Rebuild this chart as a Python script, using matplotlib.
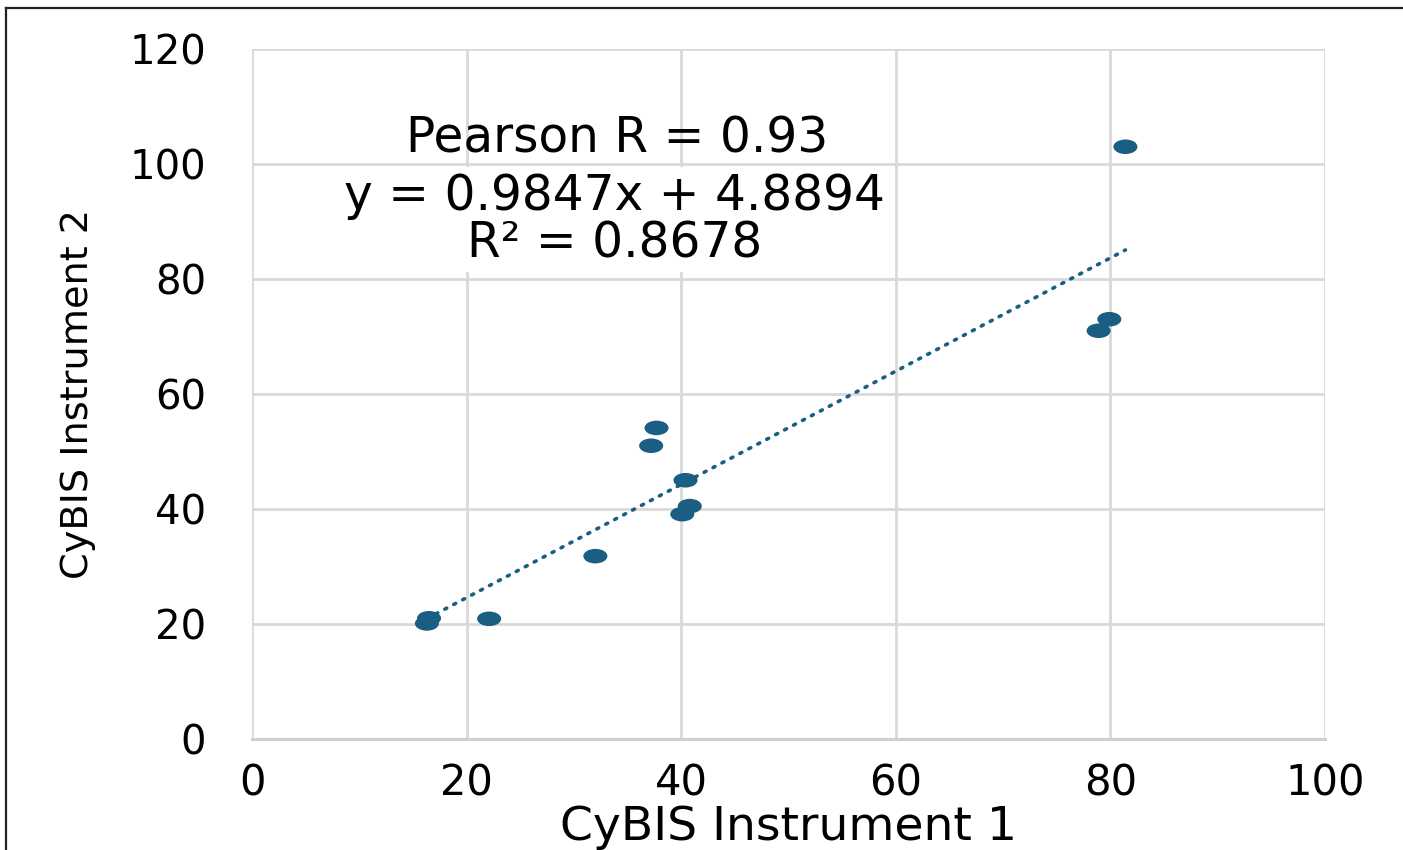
import numpy as np
import matplotlib
matplotlib.use("Agg")
import matplotlib.pyplot as plt
from matplotlib.path import Path
from matplotlib.transforms import Affine2D
from matplotlib.lines import Line2D

# data
instrument_1 = [16.3, 16.5, 22.1, 32.0, 37.2, 37.7, 40.1, 40.4, 40.8, 78.9, 79.9, 81.4]
instrument_2 = [20.1, 21.0, 20.9, 31.8, 51.0, 54.1, 39.1, 45.0, 40.5, 71.0, 73.0, 103.0]
slope = 0.9847
intercept = 4.8894
pearson_r = 0.93
r_squared = 0.8678

x_ticks = [0, 20, 40, 60, 80, 100]
y_ticks = [0, 20, 40, 60, 80, 100, 120]

blue = "#1b5e84"
grid_col = "#d9d9d9"

plt.rcParams['font.family'] = ['DejaVu Sans']

fig = plt.figure(figsize=(14.03, 8.5), dpi=100)
ax = fig.add_axes([252 / 1403, 1 - 739 / 850, (1325 - 252) / 1403, (739 - 49) / 850])

# ellipse marker (source image is stretched sideways)
ellipse = Path.unit_circle().transformed(Affine2D().scale(1.65, 1.0))

# trendline
xs = np.array([min(instrument_1), max(instrument_1)])
ax.plot(xs, slope * xs + intercept, color=blue, lw=2.6,
        linestyle=(0, (0.6, 2.2)), dash_capstyle='round', zorder=2)

ax.scatter(instrument_1, instrument_2, marker=ellipse, s=300, color=blue,
           edgecolors='none', zorder=3)

ax.set_xlim(0, 100)
ax.set_ylim(0, 120)
ax.set_xticks(x_ticks)
ax.set_yticks(y_ticks)
ax.grid(True, color=grid_col, lw=2.0)
ax.set_axisbelow(True)
for side in ['top', 'right', 'left']:
    ax.spines[side].set_visible(False)
ax.spines['bottom'].set_color('#cfcfcf')
ax.spines['bottom'].set_linewidth(2.2)
ax.tick_params(axis='both', length=0)
ax.tick_params(axis='y', labelsize=29, pad=33)
ax.tick_params(axis='x', labelsize=30, pad=17)

ax.set_xlabel('CyBIS Instrument 1', fontsize=34, labelpad=0)
ax.set_ylabel('CyBIS Instrument 2', fontsize=27.5, labelpad=24)

ax.text(34.0, 104.4, f'Pearson R = {pearson_r}', fontsize=35,
        ha='center', va='center', zorder=4)
ax.text(33.8, 90.3, f'y = {slope}x + {intercept}\nR² = {r_squared}', fontsize=35,
        ha='center', va='center', linespacing=1.0, zorder=4,
        bbox=dict(facecolor='white', edgecolor='none', pad=3))

# thin frame at top and left of the picture
fig.add_artist(Line2D([6 / 1403, 1], [1 - 8 / 850, 1 - 8 / 850], color='#222222', lw=1.6))
fig.add_artist(Line2D([6 / 1403, 6 / 1403], [0, 1 - 8 / 850], color='#222222', lw=1.6))

fig.savefig('out.png', dpi=100)
